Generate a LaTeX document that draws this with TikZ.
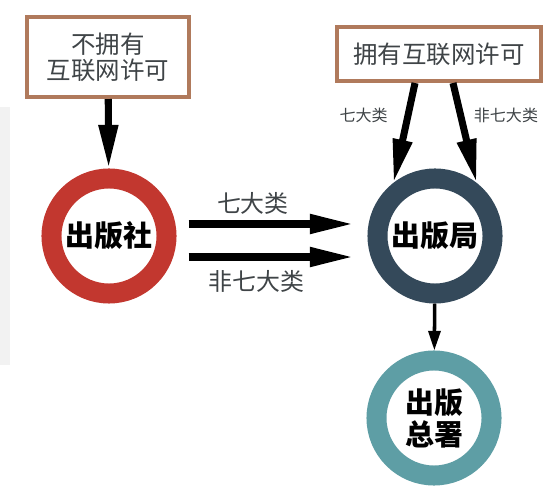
\documentclass[tikz,border=0pt]{standalone}
\usepackage{fontspec}
\usepackage{tikz}
\usepackage{xcolor}
\usetikzlibrary{arrows.meta}
\newfontfamily\cjk{Noto Sans CJK SC}
\definecolor{boxbrown}{HTML}{B07A5C}
\definecolor{txtgray}{HTML}{3F4447}
\definecolor{ringred}{HTML}{C2372F}
\definecolor{ringdark}{HTML}{34495A}
\definecolor{ringteal}{HTML}{5E9EA5}
\begin{document}
\begin{tikzpicture}[x=0.025cm, y=-0.025cm,
    licbox/.style={draw=boxbrown, line width=2.85pt, fill=white, align=center, text=txtgray,
        font=\cjk\fontsize{17.4}{18.5}\selectfont, inner sep=0pt},
    ring/.style={circle, draw=#1, line width=0.5cm, minimum size=2.875cm, fill=white, inner sep=0pt,
        align=center, font=\cjk\bfseries\fontsize{20.6}{22.8}\selectfont},
    bigarrow/.style={-{Triangle[length=31pt, width=13pt]}, line width=5pt},
    thinarrow/.style={-{Triangle[length=14pt, width=8.5pt]}, line width=2.5pt},
    lab/.style={text=txtgray, inner sep=0pt, font=\cjk\fontsize{17}{18}\selectfont},
    smalllab/.style={text=txtgray, inner sep=0pt, font=\cjk\fontsize{11.4}{12}\selectfont}]
        \useasboundingbox (0,0) rectangle (559,497);
        \fill[black!5] (0,107) rectangle (10,365);

        \node[licbox, minimum width=4.05cm, minimum height=2cm] (nolic) at (108,57) {不拥有\\互联网许可};
        \node[licbox, minimum width=5.1cm, minimum height=1.35cm] (haslic) at (439,54) {拥有互联网许可};

        \node[ring=ringred] (pub) at (109,236) {出版社};
        \node[ring=ringdark] (bureau) at (435,236) {出版局};
        \node[ring=ringteal] (admin) at (434,418) {出版\\总署};

        \draw[bigarrow] (nolic) -- (pub);
        \draw[bigarrow, shorten <=0.3cm, shorten >=0.35cm] ([yshift=0.3cm]pub.east) -- node[lab, above=4pt, pos=.4] {七大类} ([yshift=0.3cm]bureau.west);
        \draw[bigarrow, shorten <=0.3cm, shorten >=0.35cm] ([yshift=-0.525cm]pub.east) -- node[lab, below=7pt, pos=.42] {非七大类} ([yshift=-0.525cm]bureau.west);
        \draw[bigarrow] ([xshift=-0.6cm]haslic.south) -- node[smalllab, left=12pt, pos=.32] {七大类} (bureau.128);
        \draw[bigarrow] ([xshift=0.35cm]haslic.south) -- node[smalllab, right=7pt, pos=.32] {非七大类} (bureau.52);
        \draw[thinarrow] (bureau) -- (admin);
    \end{tikzpicture}
\end{document}
